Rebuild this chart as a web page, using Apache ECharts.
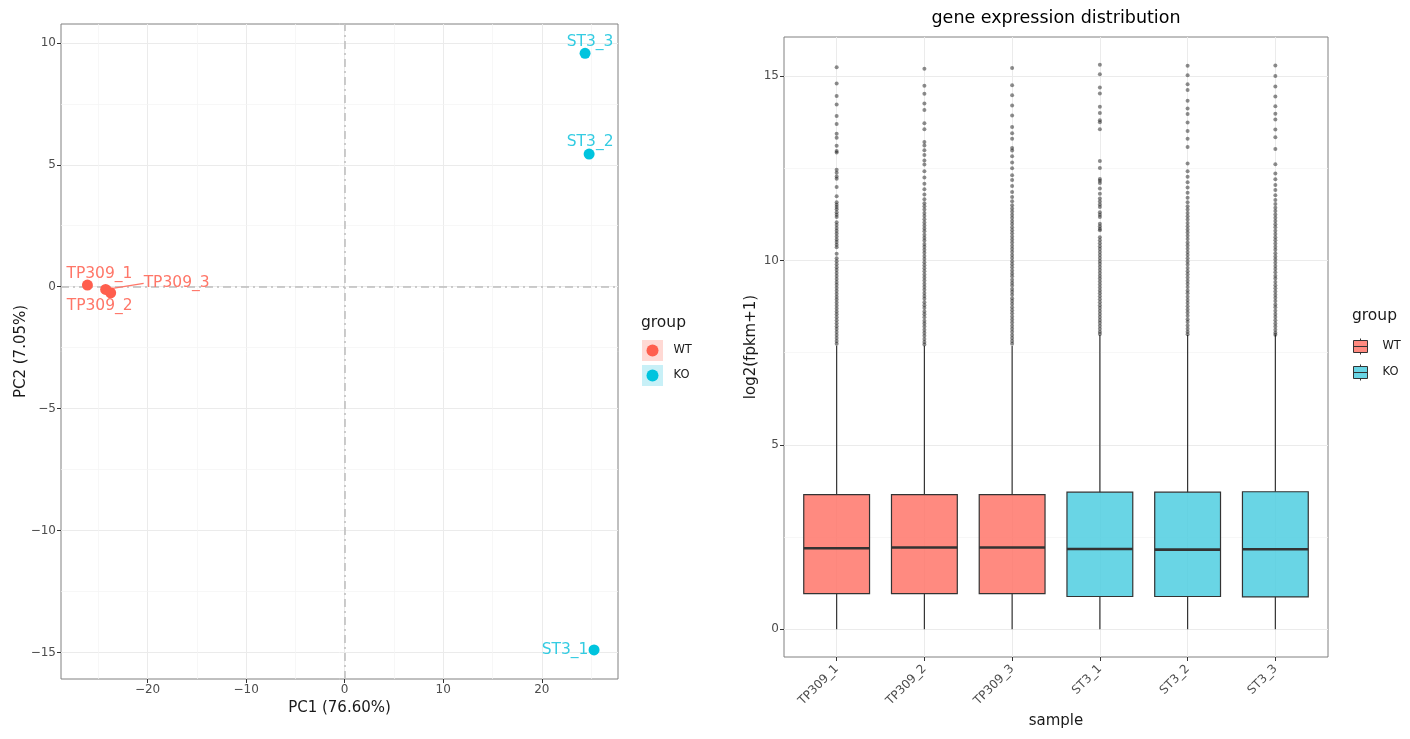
<!DOCTYPE html>
<html>
<head>
<meta charset="utf-8">
<script src="https://cdn.jsdelivr.net/npm/echarts@6/dist/echarts.min.js"></script>
<style>
  html, body { margin: 0; padding: 0; background: #fff; }
  #main { width: 1410px; height: 739px; }
</style>
</head>
<body>
<div id="main"></div>
<script>
var samples = ['TP309_1', 'TP309_2', 'TP309_3', 'ST3_1', 'ST3_2', 'ST3_3'];
var sampleGroup = ['WT', 'WT', 'WT', 'KO', 'KO', 'KO'];

// PCA scores
var pc1 = [-26.1, -23.74, -24.25, 25.3, 24.8, 24.39];
var pc2 = [0.07, -0.25, -0.11, -14.89, 5.44, 9.57];

// PCA ticks / grid
var pcaXMajor = [-20, -10, 0, 10, 20];
var pcaXMinor = [-25, -15, -5, 5, 15, 25];
var pcaYMajor = [-15, -10, -5, 0, 5, 10];
var pcaYMinor = [-12.5, -7.5, -2.5, 2.5, 7.5];

// boxplot stats per sample
var boxLow = [0, 0, 0, 0, 0, 0];
var boxQ1 = [0.97, 0.97, 0.97, 0.89, 0.89, 0.88];
var boxMedian = [2.20, 2.22, 2.22, 2.18, 2.16, 2.17];
var boxQ3 = [3.65, 3.65, 3.65, 3.72, 3.72, 3.73];
var boxHigh = [7.69, 7.69, 7.68, 7.98, 7.98, 7.99];

var exprYMajor = [0, 5, 10, 15];
var exprYMinor = [2.5, 7.5, 12.5];
var sampleTicks = [0, 1, 2, 3, 4, 5];

// outliers
var outTP309_1 = [15.24, 14.80, 14.46, 14.23, 13.92, 13.70, 13.44, 13.33, 13.11, 12.97, 12.93, 12.46, 12.38, 12.28, 12.22, 11.99, 11.74, 11.58, 11.51, 11.45, 11.39, 11.31, 11.24, 11.18, 11.04, 10.96, 10.88, 10.81, 10.73, 10.65, 10.57, 10.50, 10.43, 10.36, 10.18, 10.06, 9.98, 9.90, 9.82, 9.74, 9.66, 9.58, 9.50, 9.42, 9.34, 9.26, 9.18, 9.10, 9.02, 8.94, 8.86, 8.78, 8.70, 8.62, 8.54, 8.46, 8.38, 8.30, 8.22, 8.14, 8.06, 7.98, 7.90, 7.82, 7.74];
var outTP309_2 = [15.20, 14.74, 14.52, 14.26, 14.08, 13.72, 13.56, 13.21, 13.12, 12.99, 12.86, 12.71, 12.60, 12.42, 12.25, 12.08, 11.93, 11.79, 11.66, 11.55, 11.47, 11.38, 11.29, 11.21, 11.12, 11.03, 10.95, 10.87, 10.79, 10.70, 10.62, 10.54, 10.45, 10.37, 10.29, 10.21, 10.12, 10.04, 9.95, 9.87, 9.79, 9.71, 9.62, 9.54, 9.46, 9.37, 9.29, 9.21, 9.12, 9.04, 8.96, 8.87, 8.79, 8.71, 8.62, 8.54, 8.46, 8.37, 8.29, 8.21, 8.12, 8.04, 7.96, 7.87, 7.79, 7.72];
var outTP309_3 = [15.22, 14.75, 14.48, 14.20, 13.93, 13.62, 13.45, 13.30, 13.05, 12.98, 12.83, 12.66, 12.50, 12.31, 12.18, 12.02, 11.86, 11.72, 11.61, 11.50, 11.41, 11.33, 11.24, 11.16, 11.07, 10.99, 10.90, 10.82, 10.74, 10.65, 10.57, 10.49, 10.40, 10.32, 10.24, 10.15, 10.07, 9.98, 9.90, 9.82, 9.73, 9.65, 9.57, 9.48, 9.40, 9.32, 9.23, 9.15, 9.07, 8.98, 8.90, 8.82, 8.73, 8.65, 8.57, 8.48, 8.40, 8.32, 8.23, 8.15, 8.07, 7.98, 7.90, 7.82, 7.74];
var outST3_1 = [15.31, 15.05, 14.69, 14.53, 14.17, 14.00, 13.80, 13.75, 13.56, 12.70, 12.51, 12.21, 12.16, 12.10, 11.95, 11.81, 11.68, 11.60, 11.52, 11.45, 11.31, 11.24, 11.18, 11.00, 10.93, 10.86, 10.82, 10.63, 10.55, 10.47, 10.39, 10.31, 10.23, 10.15, 10.07, 9.99, 9.91, 9.83, 9.75, 9.67, 9.59, 9.51, 9.43, 9.35, 9.27, 9.19, 9.11, 9.03, 8.95, 8.87, 8.79, 8.71, 8.63, 8.55, 8.47, 8.39, 8.31, 8.23, 8.15, 8.07, 8.01];
var outST3_2 = [15.28, 15.02, 14.78, 14.62, 14.33, 14.12, 13.97, 13.74, 13.51, 13.30, 13.08, 12.63, 12.42, 12.27, 12.12, 11.98, 11.84, 11.70, 11.58, 11.47, 11.38, 11.29, 11.20, 11.11, 11.02, 10.93, 10.84, 10.76, 10.67, 10.58, 10.49, 10.41, 10.32, 10.23, 10.15, 10.06, 9.97, 9.89, 9.80, 9.71, 9.63, 9.54, 9.45, 9.37, 9.28, 9.19, 9.11, 9.02, 8.93, 8.85, 8.76, 8.67, 8.59, 8.50, 8.41, 8.33, 8.24, 8.15, 8.07, 8.00];
var outST3_3 = [15.29, 15.00, 14.72, 14.45, 14.18, 13.98, 13.82, 13.55, 13.34, 13.02, 12.61, 12.36, 12.20, 12.05, 11.91, 11.77, 11.64, 11.53, 11.43, 11.34, 11.25, 11.16, 11.07, 10.98, 10.90, 10.81, 10.72, 10.63, 10.55, 10.46, 10.37, 10.29, 10.20, 10.11, 10.03, 9.94, 9.85, 9.77, 9.68, 9.59, 9.51, 9.42, 9.33, 9.25, 9.16, 9.07, 8.99, 8.90, 8.81, 8.73, 8.64, 8.55, 8.47, 8.38, 8.29, 8.21, 8.12, 8.04, 7.99];
var outliers = [outTP309_1, outTP309_2, outTP309_3, outST3_1, outST3_2, outST3_3];

// styles
var pointColor = { WT: '#FF5E4D', KO: '#00C4DE' };
var labelColor = { WT: '#FF7668', KO: '#35CCE2' };
var keyBack = { WT: '#FFD9D4', KO: '#C8F0F7' };
var boxFill = { WT: 'rgba(255,118,106,0.85)', KO: 'rgba(79,206,225,0.85)' };
var labelShift = {
  TP309_1: [12, -11.5],
  TP309_2: [-11, 13.5],
  TP309_3: [71, -6],
  ST3_1: [-29, 0],
  ST3_2: [1, -12],
  ST3_3: [5, -11]
};
var tickColor = '#4d4d4d';
var fontFam = 'DejaVu Sans';

function minusFmt(v) {
  return v < 0 ? '\u2212' + Math.abs(v) : String(v);
}

function pcaSeries(g) {
  var data = [];
  samples.forEach(function (s, i) {
    if (sampleGroup[i] !== g) return;
    var item = { name: s, value: [pc1[i], pc2[i]] };
    if (s === 'TP309_3') item.labelLine = { show: true };
    data.push(item);
  });
  return {
    type: 'scatter',
    name: g,
    xAxisIndex: 0,
    yAxisIndex: 0,
    z: 10,
    symbolSize: 11,
    itemStyle: { color: pointColor[g], opacity: 1 },
    label: {
      show: true,
      position: 'inside',
      formatter: '{b}',
      color: labelColor[g],
      fontSize: 15.5,
      fontFamily: fontFam
    },
    labelLine: { show: false, lineStyle: { color: labelColor[g], width: 1.3 } },
    labelLayout: function (p) {
      var o = labelShift[p.text] || [0, 0];
      return { dx: o[0], dy: o[1] };
    },
    emphasis: { disabled: true },
    data: data
  };
}

function renderBox(params, api) {
  var x = api.value(0);
  var pLow = api.coord([x, api.value(1)]);
  var pQ1 = api.coord([x, api.value(2)]);
  var pMed = api.coord([x, api.value(3)]);
  var pQ3 = api.coord([x, api.value(4)]);
  var pHigh = api.coord([x, api.value(5)]);
  var w = api.size([0.75, 0])[0];
  var stroke = '#333333';
  return {
    type: 'group',
    children: [
      { type: 'line', shape: { x1: pLow[0], y1: pLow[1], x2: pQ1[0], y2: pQ1[1] }, style: { stroke: stroke, lineWidth: 1.2 } },
      { type: 'line', shape: { x1: pQ3[0], y1: pQ3[1], x2: pHigh[0], y2: pHigh[1] }, style: { stroke: stroke, lineWidth: 1.2 } },
      { type: 'rect', shape: { x: pQ3[0] - w / 2, y: pQ3[1], width: w, height: pQ1[1] - pQ3[1] }, style: { fill: api.visual('color'), stroke: stroke, lineWidth: 1.2 } },
      { type: 'line', shape: { x1: pMed[0] - w / 2, y1: pMed[1], x2: pMed[0] + w / 2, y2: pMed[1] }, style: { stroke: stroke, lineWidth: 2.6 } }
    ]
  };
}

function boxSeries(g) {
  var data = [];
  samples.forEach(function (s, i) {
    if (sampleGroup[i] === g) {
      data.push([i, boxLow[i], boxQ1[i], boxMedian[i], boxQ3[i], boxHigh[i]]);
    }
  });
  return {
    type: 'custom',
    name: g,
    xAxisIndex: 1,
    yAxisIndex: 1,
    z: 10,
    itemStyle: { color: boxFill[g] },
    encode: { x: 0, y: [1, 2, 3, 4, 5] },
    renderItem: renderBox,
    silent: true,
    data: data
  };
}

var outlierData = [];
outliers.forEach(function (arr, i) {
  arr.forEach(function (v) { outlierData.push([i, v]); });
});

var markBase = {
  silent: true,
  symbol: ['none', 'none'],
  label: { show: false },
  animation: false,
  emphasis: { disabled: true }
};
var minorStyle = { color: '#f3f3f3', width: 0.7, type: 'solid' };
var zeroStyle = { color: '#bdbdbd', width: 1.5, type: [8, 4, 2, 4] };

var wt = pcaSeries('WT');
wt.markLine = Object.assign({}, markBase, {
  data: pcaXMinor.map(function (v) { return { xAxis: v, lineStyle: minorStyle }; })
    .concat(pcaYMinor.map(function (v) { return { yAxis: v, lineStyle: minorStyle }; }))
});
var ko = pcaSeries('KO');
ko.markLine = Object.assign({}, markBase, {
  data: [{ xAxis: 0, lineStyle: zeroStyle }, { yAxis: 0, lineStyle: zeroStyle }]
});

var outlierSeries = {
  type: 'scatter',
  name: 'outliers',
  xAxisIndex: 1,
  yAxisIndex: 1,
  z: 11,
  symbolSize: 4,
  silent: true,
  itemStyle: { color: 'rgba(25,25,25,0.62)' },
  markLine: Object.assign({}, markBase, {
    data: exprYMinor.map(function (v) { return { yAxis: v, lineStyle: minorStyle }; })
  }),
  data: outlierData
};

var boxIcon = 'path://M7,0L7,2M0,2L14,2L14,14L0,14ZM0,8L14,8M7,14L7,16';

function axisCommon(custom, fmt) {
  return {
    axisLine: { show: false, onZero: false },
    axisTick: { show: true, length: 4, lineStyle: { color: '#333', width: 1 }, customValues: custom },
    axisLabel: { customValues: custom, formatter: fmt, color: tickColor, fontSize: 12, fontFamily: fontFam, margin: 5 },
    splitLine: { show: true, lineStyle: { color: '#ebebeb', width: 1 } },
    nameLocation: 'middle',
    nameMoveOverlap: false,
    nameTextStyle: { fontSize: 15, color: '#1a1a1a', fontFamily: fontFam }
  };
}

var xPca = Object.assign(axisCommon(pcaXMajor, minusFmt), {
  type: 'value', gridIndex: 0, min: -28.78, max: 27.73,
  name: 'PC1 (76.60%)', nameGap: 22
});
var yPca = Object.assign(axisCommon(pcaYMajor, minusFmt), {
  type: 'value', gridIndex: 0, min: -16.08, max: 10.77,
  name: 'PC2 (7.05%)', nameGap: 32
});
var xExpr = Object.assign(axisCommon(sampleTicks, function (v) { return samples[v]; }), {
  type: 'value', gridIndex: 1, min: -0.6, max: 5.6,
  name: 'sample', nameGap: 57
});
xExpr.axisLabel.rotate = 45;
xExpr.axisLabel.margin = 10;
var yExpr = Object.assign(axisCommon(exprYMajor, minusFmt), {
  type: 'value', gridIndex: 1, min: -0.75, max: 16.06,
  name: 'log2(fpkm+1)', nameGap: 25
});

var option = {
  animation: false,
  textStyle: { fontFamily: fontFam },
  title: [
    { text: 'gene expression distribution', left: 1056, top: 9, textAlign: 'center', padding: 0,
      textStyle: { fontSize: 17.5, fontWeight: 'normal', color: '#000', fontFamily: fontFam } },
    { text: 'group', left: 641, top: 315, padding: 0,
      textStyle: { fontSize: 15.5, fontWeight: 'normal', color: '#1a1a1a', fontFamily: fontFam } },
    { text: 'group', left: 1352, top: 308, padding: 0,
      textStyle: { fontSize: 15.5, fontWeight: 'normal', color: '#1a1a1a', fontFamily: fontFam } }
  ],
  legend: [
    {
      left: 642, top: 340, orient: 'vertical', padding: 0,
      itemWidth: 21, itemHeight: 21, itemGap: 4, selectedMode: false,
      formatter: function () { return ''; },
      data: [
        { name: 'WT', icon: 'rect', itemStyle: { color: keyBack.WT, borderWidth: 0 } },
        { name: 'KO', icon: 'rect', itemStyle: { color: keyBack.KO, borderWidth: 0 } }
      ]
    },
    {
      left: 646.5, top: 344.5, orient: 'vertical', padding: 0, z: 5,
      itemWidth: 12, itemHeight: 12, itemGap: 13, selectedMode: false,
      textStyle: { fontSize: 11.5, color: '#1a1a1a', lineHeight: 12, padding: [0, 0, 0, 10], fontFamily: fontFam },
      data: [
        { name: 'WT', icon: 'circle', itemStyle: { color: pointColor.WT, borderWidth: 0 } },
        { name: 'KO', icon: 'circle', itemStyle: { color: pointColor.KO, borderWidth: 0 } }
      ]
    },
    {
      left: 1353, top: 338, orient: 'vertical', padding: 0,
      itemWidth: 14, itemHeight: 16, itemGap: 9, selectedMode: false,
      textStyle: { fontSize: 11.5, color: '#1a1a1a', lineHeight: 16, padding: [0, 0, 0, 10], fontFamily: fontFam },
      data: [
        { name: 'WT', icon: boxIcon, itemStyle: { color: boxFill.WT, borderColor: '#333', borderWidth: 1 } },
        { name: 'KO', icon: boxIcon, itemStyle: { color: boxFill.KO, borderColor: '#333', borderWidth: 1 } }
      ]
    }
  ],
  grid: [
    { left: 61, top: 24, width: 557, height: 655, show: true, borderColor: '#808080', borderWidth: 1, backgroundColor: '#fff' },
    { left: 784, top: 37, width: 544, height: 620, show: true, borderColor: '#808080', borderWidth: 1, backgroundColor: '#fff' }
  ],
  xAxis: [xPca, xExpr],
  yAxis: [yPca, yExpr],
  series: [wt, ko, boxSeries('WT'), boxSeries('KO'), outlierSeries]
};

var chart = echarts.init(document.getElementById('main'));
chart.setOption(option);
</script>
</body>
</html>
